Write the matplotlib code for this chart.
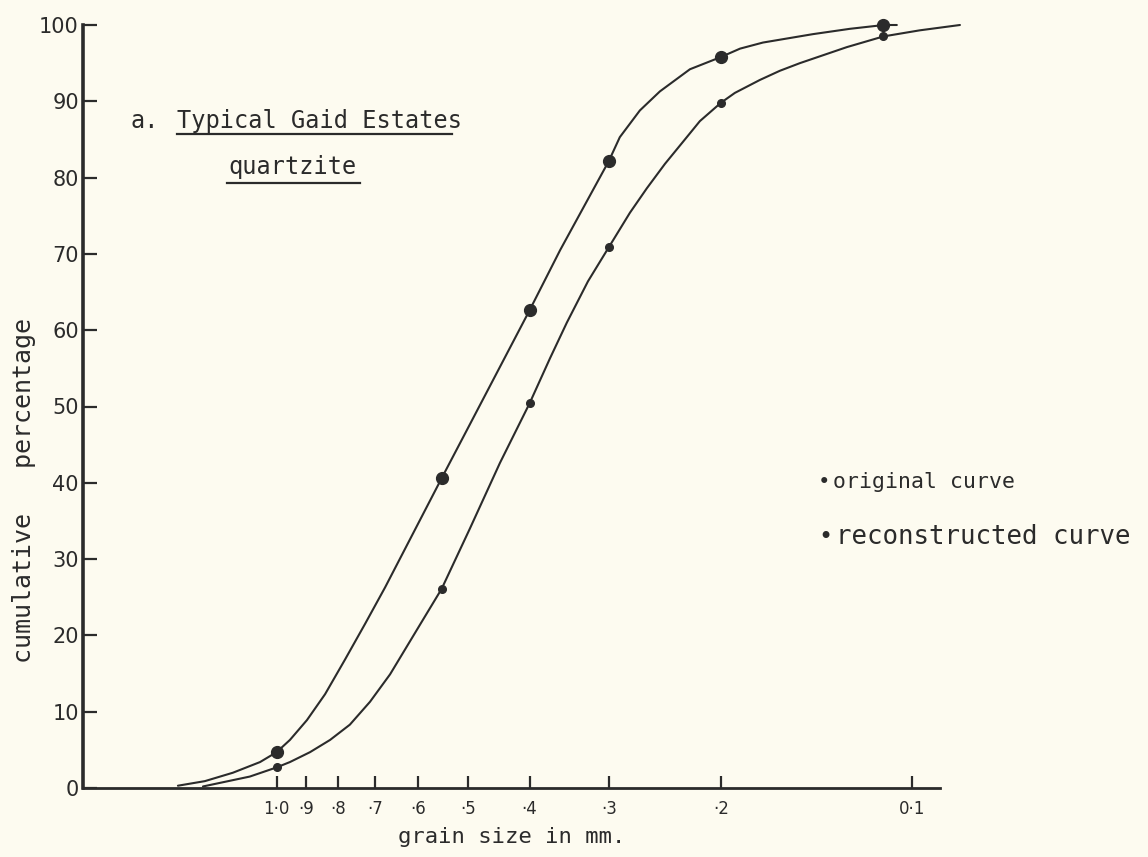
import numpy as np
import matplotlib.pyplot as plt

# grain size (mm) and cumulative percentage
recon_size = [1.430, 1.297, 1.172, 1.062, 1.0, 0.953, 0.896, 0.839, 0.781, 0.726,
              0.675, 0.55, 0.502, 0.4, 0.358, 0.3, 0.2884, 0.2682, 0.2494, 0.2237,
              0.2, 0.1866, 0.1717, 0.1433, 0.1253, 0.1108, 0.1057]
recon_pct = [0.3, 0.9, 2.0, 3.4, 4.7, 6.3, 8.9, 12.3, 16.8, 21.5,
             26.3, 40.6, 46.9, 62.6, 70.5, 82.2, 85.3, 88.8, 91.3, 94.2,
             95.8, 96.9, 97.7, 98.8, 99.5, 100.0, 100.0]

orig_size = [1.306, 1.102, 1.0, 0.953, 0.886, 0.824, 0.767, 0.713, 0.663, 0.589,
             0.55, 0.4965, 0.4453, 0.4, 0.3715, 0.3494, 0.3237, 0.3, 0.278, 0.2615,
             0.2449, 0.2278, 0.2158, 0.2, 0.1901, 0.1736, 0.1615, 0.1502, 0.1267,
             0.111, 0.0973, 0.0841]
orig_pct = [0.2, 1.5, 2.7, 3.4, 4.7, 6.3, 8.3, 11.3, 14.9, 22.0,
            26.1, 34.0, 42.6, 50.4, 56.3, 61.0, 66.4, 70.9, 75.4, 78.6,
            81.8, 85.0, 87.4, 89.8, 91.1, 92.8, 94.0, 95.0, 97.1,
            98.5, 99.3, 100.0]

# measured points (dots)
recon_dot_size = [1.0, 0.55, 0.4, 0.3, 0.2, 0.111]
recon_dot_pct = [4.7, 40.6, 62.6, 82.2, 95.8, 100.0]
orig_dot_size = [1.0, 0.55, 0.4, 0.3, 0.2, 0.111]
orig_dot_pct = [2.7, 26.1, 50.4, 70.9, 89.8, 98.5]

xticks = [1.0, 0.9, 0.8, 0.7, 0.6, 0.5, 0.4, 0.3, 0.2, 0.1]
xticklabels = ["1·0", "·9", "·8", "·7", "·6", "·5", "·4", "·3", "·2", "0·1"]
yticks = [0, 10, 20, 30, 40, 50, 60, 70, 80, 90, 100]

ink = "#2b2b2b"
paper = "#fdfbf0"
mono = "DejaVu Sans Mono"

fig = plt.figure(figsize=(11.48, 8.57), dpi=100, facecolor=paper)
ax = fig.add_axes([83 / 1148, 69 / 857, 857 / 1148, 763 / 857])
ax.set_facecolor(paper)

ax.plot(recon_size, recon_pct, color=ink, lw=1.5, clip_on=False,
        solid_capstyle="round", solid_joinstyle="round")
ax.plot(orig_size, orig_pct, color=ink, lw=1.5, clip_on=False,
        solid_capstyle="round", solid_joinstyle="round")
ax.plot(recon_dot_size, recon_dot_pct, "o", color=ink, ms=8.5, clip_on=False)
ax.plot(orig_dot_size, orig_dot_pct, "o", color=ink, ms=5.5, clip_on=False)

ax.set_xscale("log")
ax.set_xlim(2.017, 0.0904)
ax.set_ylim(0, 100)

ax.xaxis.set_major_locator(plt.FixedLocator(xticks))
ax.xaxis.set_minor_locator(plt.NullLocator())
ax.set_xticklabels(xticklabels, fontsize=12, family="DejaVu Sans")
ax.set_yticks(yticks)
ax.set_yticklabels([str(v) for v in yticks], fontsize=15, family="DejaVu Sans")
ax.set_yticks([100], minor=True)

ax.tick_params(axis="x", which="major", direction="in", length=9, width=1.6,
               pad=9, colors=ink)
ax.tick_params(axis="y", which="major", direction="in", length=10, width=1.6,
               pad=3, colors=ink)
ax.tick_params(axis="y", which="minor", direction="in", length=19, width=1.8,
               colors=ink)

for side in ["top", "right"]:
    ax.spines[side].set_visible(False)
ax.spines["left"].set_linewidth(2.6)
ax.spines["bottom"].set_linewidth(2.0)
ax.spines["left"].set_color(ink)
ax.spines["bottom"].set_color(ink)

ax.set_xlabel("grain size in mm.", fontsize=16, family=mono, color=ink, labelpad=6)
ax.set_ylabel("cumulative   percentage", fontsize=18, family=mono, color=ink)
ax.yaxis.set_label_coords(-0.055, 0.39)

# panel title, underlined
fig.text(130 / 1148, 1 - 121 / 857, "a.", fontsize=17, family=mono, color=ink, va="center")
fig.text(177 / 1148, 1 - 121 / 857, "Typical Gaid Estates", fontsize=17, family=mono,
         color=ink, va="center")
fig.add_artist(plt.Line2D([177 / 1148, 452 / 1148], [1 - 134 / 857] * 2, color=ink, lw=1.6))
fig.text(228 / 1148, 1 - 167 / 857, "quartzite", fontsize=17, family=mono, color=ink,
         va="center")
fig.add_artist(plt.Line2D([227 / 1148, 360 / 1148], [1 - 183 / 857] * 2, color=ink, lw=1.6))

# key
fig.text(818 / 1148, 1 - 482 / 857, "•", fontsize=15, family=mono, color=ink, va="center")
fig.text(833 / 1148, 1 - 482 / 857, "original curve", fontsize=15.5, family=mono,
         color=ink, va="center")
fig.text(818 / 1148, 1 - 537 / 857, "•", fontsize=17, family=mono, color=ink, va="center")
fig.text(836 / 1148, 1 - 537 / 857, "reconstructed curve", fontsize=18.5, family=mono,
         color=ink, va="center")

plt.savefig("out.png", dpi=100, facecolor=paper)
